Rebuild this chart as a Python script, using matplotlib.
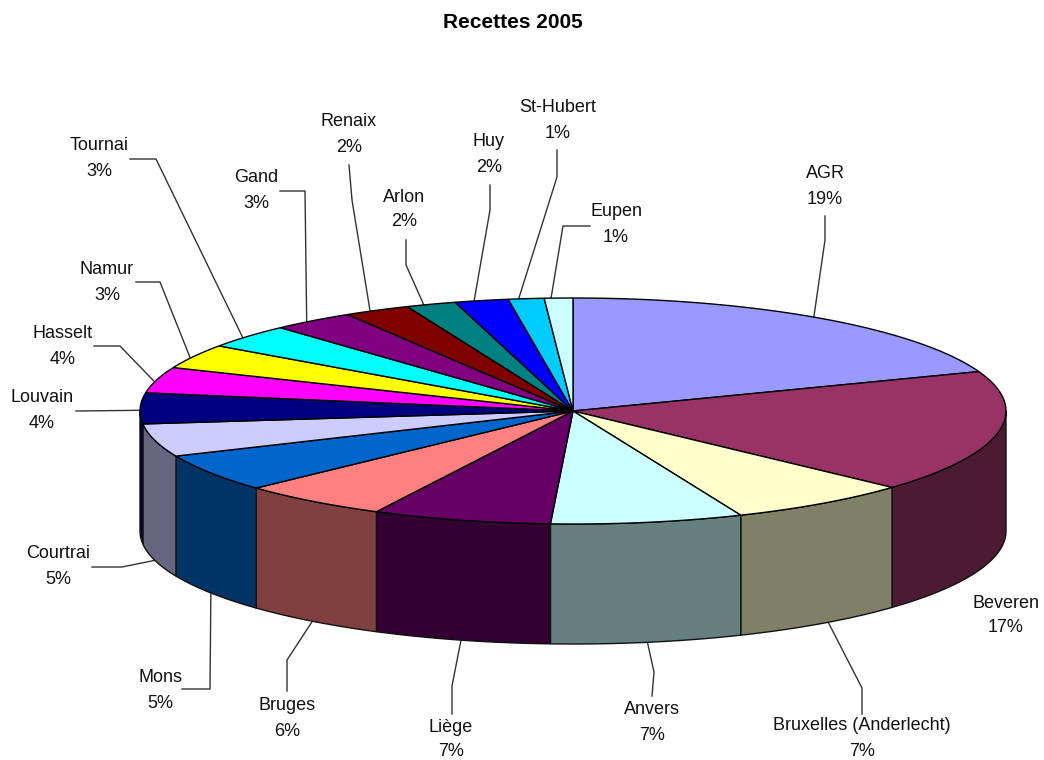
import numpy as np
import matplotlib
matplotlib.use('Agg')
import matplotlib.pyplot as plt
from matplotlib.colors import to_rgb

plt.rcParams['font.family'] = ['Liberation Sans', 'DejaVu Sans']

title = 'Recettes 2005'
names = ['AGR', 'Beveren', 'Bruxelles (Anderlecht)', 'Anvers', 'Liège', 'Bruges', 'Mons',
         'Courtrai', 'Louvain', 'Hasselt', 'Namur', 'Tournai', 'Gand', 'Renaix', 'Arlon',
         'Huy', 'St-Hubert', 'Eupen']
values = [19.33, 17.49, 6.85, 7.16, 6.67, 5.56, 5.41, 4.7, 4.41, 3.7, 3.49, 3.42, 3.09, 2.47,
          1.86, 2.0, 1.33, 1.06]
colors = ['#9999FF', '#993366', '#FFFFCC', '#CCFFFF', '#660066', '#FF8080', '#0066CC',
          '#CCCCFF', '#000080', '#FF00FF', '#FFFF00', '#00FFFF', '#800080', '#800000',
          '#008080', '#0000FF', '#00CCFF', '#CCFFFF']

# pie geometry, in pixels of the picture
cx, cy, rx, ry, depth = 573, 411, 433, 113, 120

# label centre x, y of first line, y of second line, leader points before the rim
layout = {
    'AGR': (825, 173, 199, [(825, 216), (825, 240)]),
    'Beveren': (1006, 603, 628, None),
    'Bruxelles (Anderlecht)': (862, 726, 751, [(862, 714), (862, 688)]),
    'Anvers': (652, 710, 736, [(652, 696), (654, 672)]),
    'Liège': (451, 727, 751, [(452, 714), (452, 686)]),
    'Bruges': (287, 706, 732, [(287, 691), (287, 660)]),
    'Mons': (160, 677, 703, [(182, 689), (210, 689)]),
    'Courtrai': (58, 554, 579, [(92, 567), (122, 567)]),
    'Louvain': (42, 398, 423, [(76, 411)]),
    'Hasselt': (63, 334, 359, [(94, 346), (120, 346)]),
    'Namur': (107, 269, 295, [(136, 282), (160, 282)]),
    'Tournai': (99, 146, 172, [(130, 159), (156, 159)]),
    'Gand': (256, 178, 204, [(280, 191), (305, 191)]),
    'Renaix': (349, 122, 148, [(349, 165), (352, 200)]),
    'Arlon': (404, 197, 222, [(406, 240), (406, 265)]),
    'Huy': (489, 141, 167, [(490, 185), (490, 210)]),
    'St-Hubert': (558, 108, 133, [(557, 150), (557, 177)]),
    'Eupen': (616, 212, 238, [(590, 226), (563, 226)]),
}


def rim(theta):
    # theta in degrees, clockwise from the top of the pie
    t = np.radians(theta)
    return cx + rx * np.sin(t), cy - ry * np.cos(t)


fig = plt.figure(figsize=(10.44, 7.6), dpi=100)
ax = fig.add_axes([0, 0, 1, 1])
ax.set_xlim(0, 1044)
ax.set_ylim(760, 0)
ax.axis('off')

shares = np.array(values) / sum(values) * 360
ends = np.cumsum(shares)
starts = ends - shares

# outer wall, only the front half shows
for a, b, c in zip(starts, ends, colors):
    lo, hi = max(a, 90), min(b, 270)
    if hi <= lo:
        continue
    th = np.linspace(lo, hi, 60)
    x, y = rim(th)
    side = tuple(v * 0.5 for v in to_rgb(c))
    ax.fill(np.r_[x, x[::-1]], np.r_[y, y[::-1] + depth], fc=side, ec='#111111', lw=1, zorder=2)

# top of the pie
for a, b, c in zip(starts, ends, colors):
    th = np.linspace(a, b, 60)
    x, y = rim(th)
    ax.fill(np.r_[cx, x], np.r_[cy, y], fc=c, ec='black', lw=1, zorder=3)

# labels and leader lines
for name, v, a, b in zip(names, values, starts, ends):
    tx, y1, y2, leader = layout[name]
    ax.text(tx, y1, name, ha='center', va='center', fontsize=13, color='#111111')
    ax.text(tx, y2, '%d%%' % round(v), ha='center', va='center', fontsize=13, color='#111111')
    if leader is None:
        continue
    mid = (a + b) / 2
    if mid < 150 or mid > 270:
        mid = mid - 1
    ex, ey = rim(mid)
    if 90 < mid < 270:
        ey = ey + depth
    pts = leader + [(ex, ey)]
    ax.plot([p[0] for p in pts], [p[1] for p in pts], color='#333333', lw=1, zorder=1)

ax.text(513, 23, title, ha='center', va='center', fontsize=15, fontweight='bold', color='black')

fig.savefig('out.png', dpi=100)
